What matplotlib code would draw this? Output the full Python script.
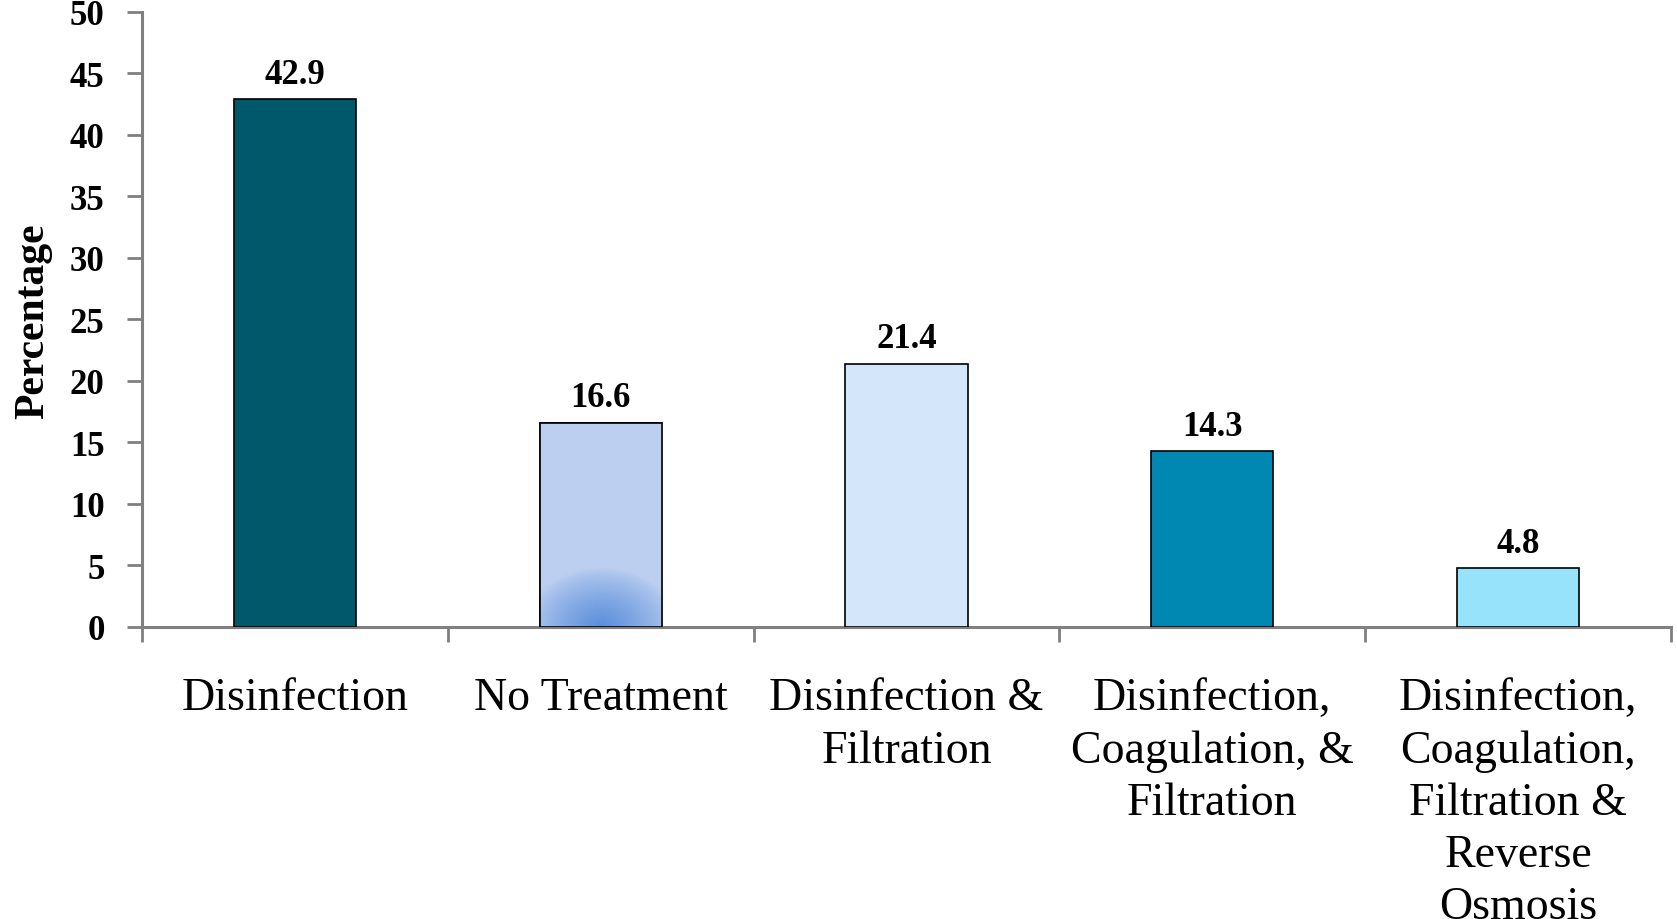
import numpy as np
import matplotlib
matplotlib.use("Agg")
import matplotlib.pyplot as plt
from matplotlib.colors import to_rgb

categories = [
    "Disinfection",
    "No Treatment",
    "Disinfection &\nFiltration",
    "Disinfection,\nCoagulation, &\nFiltration",
    "Disinfection,\nCoagulation,\nFiltration &\nReverse\nOsmosis",
]
values = [42.9, 16.6, 21.4, 14.3, 4.8]
bar_colors = ["#02586b", "#bccff0", "#d4e6f9", "#0087b2", "#97e3fb"]
y_ticks = list(range(0, 55, 5))

plt.rcParams["font.family"] = ["Liberation Serif", "DejaVu Serif"]

fig = plt.figure(figsize=(16.77, 9.20), dpi=100)
fig.patch.set_facecolor("white")
ax = fig.add_axes([0.0847, 0.3174, 0.9117, 0.6686])
ax.set_facecolor("white")

x = np.arange(len(categories))
width = 0.40
bars = ax.bar(x, values, width=width, color=bar_colors,
              edgecolor="black", linewidth=1.2, zorder=3)

# soft radial glow at the foot of the "No Treatment" bar
b = bars[1]
x0, w = b.get_x(), b.get_width()
h = b.get_height()
gx = np.linspace(x0, x0 + w, 200)
gy = np.linspace(0, h, 400)
GX, GY = np.meshgrid(gx, gy)
xc = x0 + w / 2
d = np.sqrt(((GX - xc) / (w * 0.62)) ** 2 + (GY / 4.8) ** 2)
t = np.clip(1 - d, 0, 1) ** 0.8
base = np.array(to_rgb("#bccff0"))
glow = np.array(to_rgb("#5a8edb"))
img = base[None, None, :] * (1 - t[..., None]) + glow[None, None, :] * t[..., None]
im = ax.imshow(img, extent=(x0, x0 + w, 0, h), origin="lower",
               aspect="auto", zorder=3.5, interpolation="bilinear")
im.set_clip_path(b)
ax.bar([x[1]], [values[1]], width=width, color="none",
       edgecolor="black", linewidth=1.2, zorder=4)

for xi, v in zip(x, values):
    ax.annotate(f"{v}", (xi, v), xytext=(0, 6), textcoords="offset points",
                ha="center", va="bottom", fontsize=25, fontweight="bold",
                zorder=5)

ax.set_xlim(-0.5, len(categories) - 0.5)
ax.set_ylim(0, 50)
ax.set_yticks(y_ticks)
ax.set_yticklabels([str(t) for t in y_ticks], fontsize=25, fontweight="bold")

ax.set_xticks(x)
ax.set_xticklabels(categories, fontsize=33, linespacing=1.3, va="top")
ax.set_xticks(np.arange(-0.5, len(categories)), minor=True)
ax.tick_params(axis="x", which="major", length=0, pad=36)
ax.tick_params(axis="x", which="minor", length=11, width=2, color="#808080",
               direction="out")
ax.tick_params(axis="y", which="major", length=11, width=2, color="#808080",
               direction="out", pad=16)

for side in ["top", "right"]:
    ax.spines[side].set_visible(False)
for side in ["left", "bottom"]:
    ax.spines[side].set_color("#808080")
    ax.spines[side].set_linewidth(2.2)

fig.text(0.020, 0.651, "Percentage", rotation=90, ha="center", va="center",
         fontsize=30, fontweight="bold")

fig.savefig("out.png", dpi=100, facecolor="white")
